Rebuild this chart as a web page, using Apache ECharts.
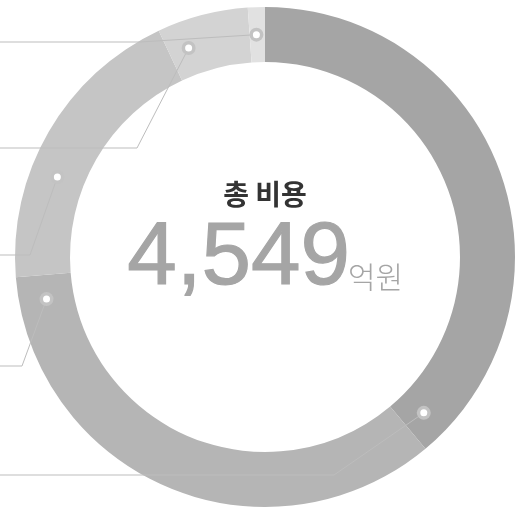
<!DOCTYPE html>
<html>
<head>
<meta charset="utf-8">
<script src="https://cdn.jsdelivr.net/npm/echarts@6/dist/echarts.min.js"></script>
<style>
  html, body { margin: 0; padding: 0; background: #ffffff; }
  #chart { width: 517px; height: 508px; }
</style>
</head>
<body>
<div id="chart"></div>
<script>
// Cost breakdown (억원), clockwise from 12 o'clock
const categories = ['항목 1', '항목 2', '항목 3', '항목 4', '항목 5'];
const costValues = [1770, 1583, 878, 268, 50];
const totalLabel = '4,549';
const unitLabel = '억원';
const titleLabel = '총 비용';

// Ring layout
const CX = 265, CY = 257, R_IN = 195, R_OUT = 250;
const sliceColors = ['#a5a5a5', '#b5b5b5', '#c5c5c5', '#d3d3d3', '#e1e1e1'];
// where each callout dot sits inside its slice (fraction of the slice sweep)
const anchorFrac = [0.96, 0.95, 0.37, 0.24, 0.44];
// callout elbow x and the row y of each horizontal run
const elbowX = [334, 22, 30, 137, 140];
const rowY = [475, 366, 255, 148, 42];

const chart = echarts.init(document.getElementById('chart'), null, { renderer: 'canvas' });

const total = costValues.reduce((a, b) => a + b, 0);
const rMid = (R_IN + R_OUT) / 2;
const callouts = [];
let acc = 0;
costValues.forEach((v, i) => {
  const a0 = acc / total * 360;
  acc += v;
  const a1 = acc / total * 360;
  const ang = (a0 + (a1 - a0) * anchorFrac[i]) * Math.PI / 180;
  const dx = CX + rMid * Math.sin(ang);
  const dy = CY - rMid * Math.cos(ang);
  callouts.push({
    type: 'polyline',
    z: 10,
    silent: true,
    shape: { points: [[dx, dy], [elbowX[i], rowY[i]], [-5, rowY[i]]] },
    style: { stroke: '#bdbdbd', lineWidth: 1, fill: null }
  });
  callouts.push({
    type: 'circle', z: 11, silent: true,
    shape: { cx: dx, cy: dy, r: 7 },
    style: { fill: '#c3c3c3' }
  });
  callouts.push({
    type: 'circle', z: 12, silent: true,
    shape: { cx: dx, cy: dy, r: 3.5 },
    style: { fill: '#ffffff' }
  });
});

const option = {
  animation: false,
  backgroundColor: '#ffffff',
  series: [{
    type: 'pie',
    center: [CX, CY],
    radius: [R_IN, R_OUT],
    startAngle: 90,
    clockwise: true,
    silent: true,
    label: { show: false },
    labelLine: { show: false },
    itemStyle: { borderWidth: 0 },
    data: categories.map((name, i) => ({
      name,
      value: costValues[i],
      itemStyle: { color: sliceColors[i] }
    }))
  }],
  graphic: callouts.concat([
    {
      type: 'text', z: 20, silent: true,
      style: {
        text: titleLabel,
        x: CX, y: 194,
        textAlign: 'center', textVerticalAlign: 'middle',
        font: 'bold 28px "Noto Sans CJK KR", sans-serif',
        fill: '#333333'
      }
    },
    {
      type: 'text', z: 20, silent: true,
      style: {
        text: totalLabel,
        x: 350, y: 304,
        textAlign: 'right', textVerticalAlign: 'bottom',
        font: '89px "Liberation Sans", Arial, sans-serif',
        fill: '#a5a5a5',
        stroke: '#a5a5a5',
        lineWidth: 1.2
      }
    },
    {
      type: 'text', z: 20, silent: true,
      style: {
        text: unitLabel,
        x: 348, y: 292,
        textAlign: 'left', textVerticalAlign: 'bottom',
        font: '300 30px "Noto Sans CJK KR", sans-serif',
        fill: '#a5a5a5'
      }
    }
  ])
};

chart.setOption(option);
</script>
</body>
</html>
